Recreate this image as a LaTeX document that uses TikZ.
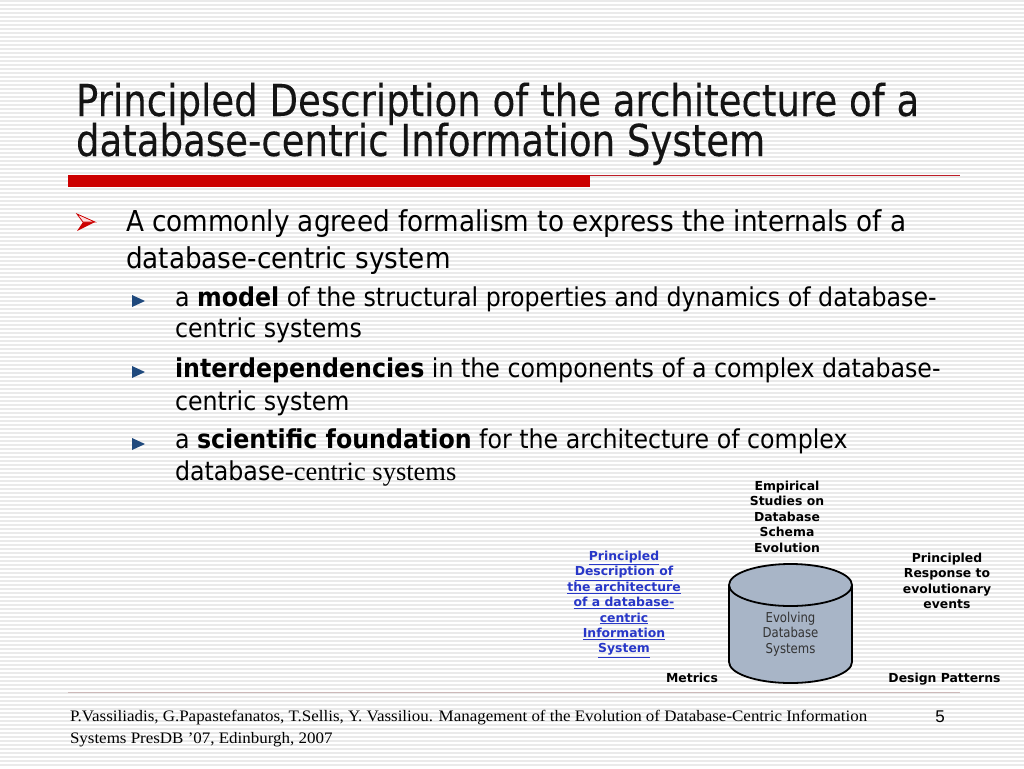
\documentclass[tikz,border=0pt]{standalone}
\usepackage{fontspec}
\setmainfont{DejaVu Sans}
\newfontfamily\titlefont[FakeStretch=0.843,FakeBold=0.15]{DejaVu Sans}
\newfontfamily\bodyfont[FakeStretch=0.912]{DejaVu Sans}
\newfontfamily\cylfont[FakeStretch=0.86]{DejaVu Sans}
\newfontfamily\labfont{DejaVu Sans}
\newfontfamily\footfont[FakeStretch=1.06]{Liberation Serif}
\newfontfamily\serifft{Liberation Serif}
\newfontfamily\numfont{Liberation Sans}
\definecolor{stripe}{RGB}{234,234,234}
\definecolor{barred}{RGB}{204,0,0}
\definecolor{thinred}{RGB}{190,30,40}
\definecolor{cylfill}{RGB}{168,181,199}
\definecolor{linkblue}{RGB}{40,55,200}
\definecolor{tri}{RGB}{31,73,125}
\definecolor{footrule}{RGB}{205,185,185}
\definecolor{titlecol}{RGB}{20,20,20}
\newcommand\lnk[1]{$\underline{\hbox{\vphantom{x}#1}}$}
\begin{document}
\begin{tikzpicture}[x=1pt,y=-1pt,
  txt/.style={inner sep=0pt, outer sep=0pt},
  titletext/.style={txt, anchor=base west, text=titlecol, font=\titlefont\fontsize{44}{44}\selectfont},
  bodytext/.style={txt, anchor=base west, font=\bodyfont\fontsize{28.8}{30}\selectfont},
  subtext/.style={txt, anchor=base west, font=\bodyfont\fontsize{26}{27}\selectfont},
  lab/.style={txt, align=center, font=\labfont\bfseries\fontsize{12.4}{15.4}\selectfont},
  subbullet/.style={fill=tri},
]
\useasboundingbox (0,0) rectangle (1024,768);
\fill[white] (0,0) rectangle (1024,768);
\foreach \y in {1,5,...,767} \draw[stripe, line width=1.3pt] (0,\y) -- (1024,\y);

% title
\node[titletext] (t1) at (76,116) {Principled Description of the architecture of a};
\node[titletext] (t2) at (76,156) {database-centric Information System};
\fill[barred] (68,175) rectangle (590,187);
\draw[thinred, line width=1.2pt] (590,175.5) -- (960,175.5);

% main bullet
\fill[barred] (77,231) -- (95,222) -- (83,222) -- cycle;
\filldraw[fill=red!15, draw=barred, line width=0.8pt, line join=miter] (77,214) -- (95,222) -- (83,222) -- cycle;
\node[bodytext] (b1) at (126,231) {A commonly agreed formalism to express the internals of a};
\node[bodytext] (b2) at (126,268) {database-centric system};

% sub bullets
\fill[subbullet] (132,295) -- (145,301) -- (132,307) -- cycle;
\fill[subbullet] (132,366) -- (145,372) -- (132,378) -- cycle;
\fill[subbullet] (132,438) -- (145,444) -- (132,450) -- cycle;
\node[subtext] (s1) at (175,306) {a \textbf{model} of the structural properties and dynamics of database-};
\node[subtext] (s2) at (175,337) {centric systems};
\node[subtext] (s3) at (175,377) {\textbf{interdependencies} in the components of a complex database-};
\node[subtext] (s4) at (175,410) {centric system};
\node[subtext] (s5) at (175,448) {a \textbf{scientific foundation} for the architecture of complex};
\node[subtext] (s6) at (175,480) {database{\serifft\fontsize{26.5}{28}\selectfont-centric systems}};

% cylinder
\fill[cylfill, draw=black, line width=1.8pt] (790.5,662) ellipse [x radius=61.5, y radius=21];
\fill[cylfill] (729,585) rectangle (852,662);
\draw[black, line width=1.8pt] (729,585) -- (729,662) (852,585) -- (852,662);
\fill[cylfill, draw=black, line width=1.8pt] (790.5,585) ellipse [x radius=61.5, y radius=21];
\node[txt, align=center, text=black!80, font=\cylfont\fontsize{13.6}{15.4}\selectfont] (cyl) at (790.5,634) {Evolving\\Database\\Systems};

% labels
\node[lab, anchor=north] (emp) at (787,481) {Empirical\\Studies on\\Database\\Schema\\Evolution};
\node[lab, anchor=north, text=linkblue] (pd) at (624,551) {\lnk{Principled}\\\lnk{Description of}\\\lnk{the architecture}\\\lnk{of a database-}\\\lnk{centric}\\\lnk{Information}\\\lnk{System}};
\node[lab, anchor=north] (pr) at (947,553) {Principled\\Response to\\evolutionary\\events};
\node[lab, anchor=base] (met) at (692,682.5) {Metrics};
\node[lab, anchor=base] (dp) at (944.5,682.5) {Design Patterns};

% footer
\draw[footrule, line width=1pt] (68,692) -- (960,692);
\node[txt, anchor=base west, font=\footfont\fontsize{16}{17}\selectfont] (f1) at (70,721) {P.Vassiliadis, G.Papastefanatos, T.Sellis, Y. Vassiliou. Management of the Evolution of Database-Centric Information};
\node[txt, anchor=base west, font=\footfont\fontsize{16}{17}\selectfont] (f2) at (70,743) {Systems PresDB ’07, Edinburgh, 2007};
\node[txt, anchor=base, font=\numfont\fontsize{17}{18}\selectfont] (pg) at (940,722) {5};
\end{tikzpicture}
\end{document}
